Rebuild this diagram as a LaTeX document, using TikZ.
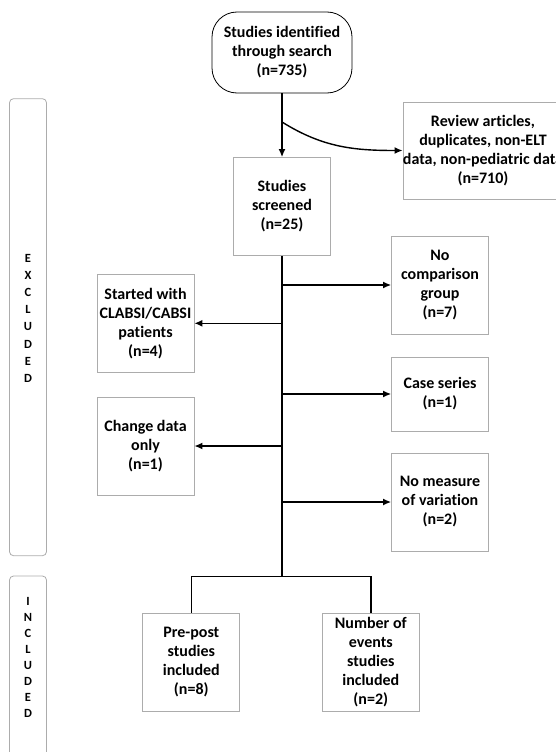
\documentclass[tikz,border=0pt]{standalone}
\usepackage{fontspec}
\setmainfont{Carlito}[Ligatures=NoCommon]
\usepackage{tikz}
\usetikzlibrary{arrows.meta}

\begin{document}
\begin{tikzpicture}[x=1pt, y=-1pt,
  box/.style={draw=gray!65, line width=0.8pt, minimum width=97, minimum height=98, inner sep=0pt, align=center, font=\fontsize{16}{19}\selectfont\bfseries},
  start/.style={box, draw=black, rounded corners=25, minimum width=140, minimum height=81},
  bar/.style={draw=gray!65, line width=0.8pt, rounded corners=4, minimum width=37, inner sep=0pt},
  bartext/.style={align=center, inner sep=0pt},
  link/.style={black, line width=1.4pt},
  arrow/.style={link, -{Latex[length=8pt,width=7pt]}}]

\useasboundingbox (0,0) rectangle (555,752);

\begin{scope}[xshift=0cm]
\node[bar, minimum height=457] (exclbar) at (28,327.2) {};
\node[bartext, font=\fontsize{12.5}{17.1}\selectfont\bfseries] (excltext) at (28,318.3) {E\\X\\C\\L\\U\\D\\E\\D};

\node[bar, minimum height=194] (inclbar) at (28,673) {};
\node[bartext, font=\fontsize{12.5}{16}\selectfont\bfseries] (incltext) at (28,657.8) {I\\N\\C\\L\\U\\D\\E\\D};

\node[start] (search) at (282,52.5) {Studies identified\\through search\\(n=735)};
\node[box] (screened) at (282,206.5) {Studies\\screened\\(n=25)};
\node[box, minimum width=152, minimum height=97] (review) at (483,150.5) {Review articles,\\duplicates, non-ELT\\data, non-pediatric data\\(n=710)};

\node[box] (nocomp) at (440,285) {No\\comparison\\group\\(n=7)};
\node[box, minimum height=74] (caseseries) at (440,394) {Case series\\(n=1)};
\node[box] (nomeasure) at (440,502) {No measure\\of variation\\(n=2)};

\node[box] (started) at (145.5,323.3) {Started with\\CLABSI/CABSI\\patients\\(n=4)};
\node[box] (change) at (145.5,446) {Change data\\only\\(n=1)};

\node[box] (prepost) at (191.3,662) {Pre-post\\studies\\included\\(n=8)};
\node[box] (events) at (370.8,662) {Number of\\events\\studies\\included\\(n=2)};

\coordinate (fork) at (282,122);
\coordinate (split) at (282,576.5);

\draw[arrow] (search) -- (screened);
\draw[arrow] (fork) to[out=-32,in=180] (review.west);
\draw[link] (screened) -- (split);

\draw[arrow] (screened.south |- nocomp.west) -- (nocomp.west);
\draw[arrow] (screened.south |- started.east) -- (started.east);
\draw[arrow] (screened.south |- caseseries.west) -- (caseseries.west);
\draw[arrow] (screened.south |- change.east) -- (change.east);
\draw[arrow] (screened.south |- nomeasure.west) -- (nomeasure.west);

\draw[link] (prepost.north) |- (split) -| (events.north);

%\node[] at (282, 740) {};
\end{scope}

\end{tikzpicture}
\end{document}
